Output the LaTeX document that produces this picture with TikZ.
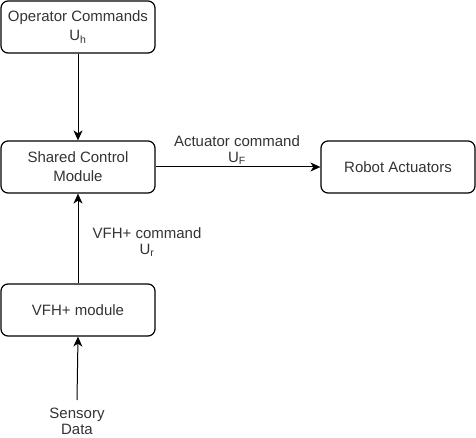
\documentclass[tikz,border=0pt]{standalone}
\usepackage{fontspec}
\setmainfont{Liberation Sans}
\usetikzlibrary{arrows.meta}
\begin{document}
\begin{tikzpicture}[x=1pt,y=-1pt,
  box/.style={draw, line width=1.2pt, rounded corners=7pt, minimum width=154pt, minimum height=52pt, align=center, inner sep=0pt, font=\fontsize{15}{19}\selectfont, text=black!80},
  lbl/.style={align=center, inner sep=0pt, font=\fontsize{15}{16}\selectfont, text=black!80},
  conn/.style={line width=1pt, -{Stealth[length=10pt,width=9pt,inset=3pt]}}]
\useasboundingbox (0,0) rectangle (476,438);
\node[box] (op) at (78,27) {Operator Commands\\U\textsubscript{h}};
\node[box] (sc) at (78,167) {Shared Control\\Module};
\node[box] (ra) at (398,167) {Robot Actuators};
\node[box] (vfh) at (78,310) {VFH+ module};
\node[lbl] (sd) at (77,421) {Sensory\\Data};
\node[lbl] (ac) at (237,150) {Actuator command\\U\textsubscript{F}};
\node[lbl] (vc) at (147,242) {VFH+ command\\U\textsubscript{r}};
\coordinate (sdtop) at (77,400);
\draw[conn] (op.south) -- (sc.north);
\draw[conn] (sc.east) -- (ra.west);
\draw[conn] (vfh.north) -- (sc.south);
\draw[conn] (sdtop) -- (vfh.south);
\end{tikzpicture}
\end{document}
